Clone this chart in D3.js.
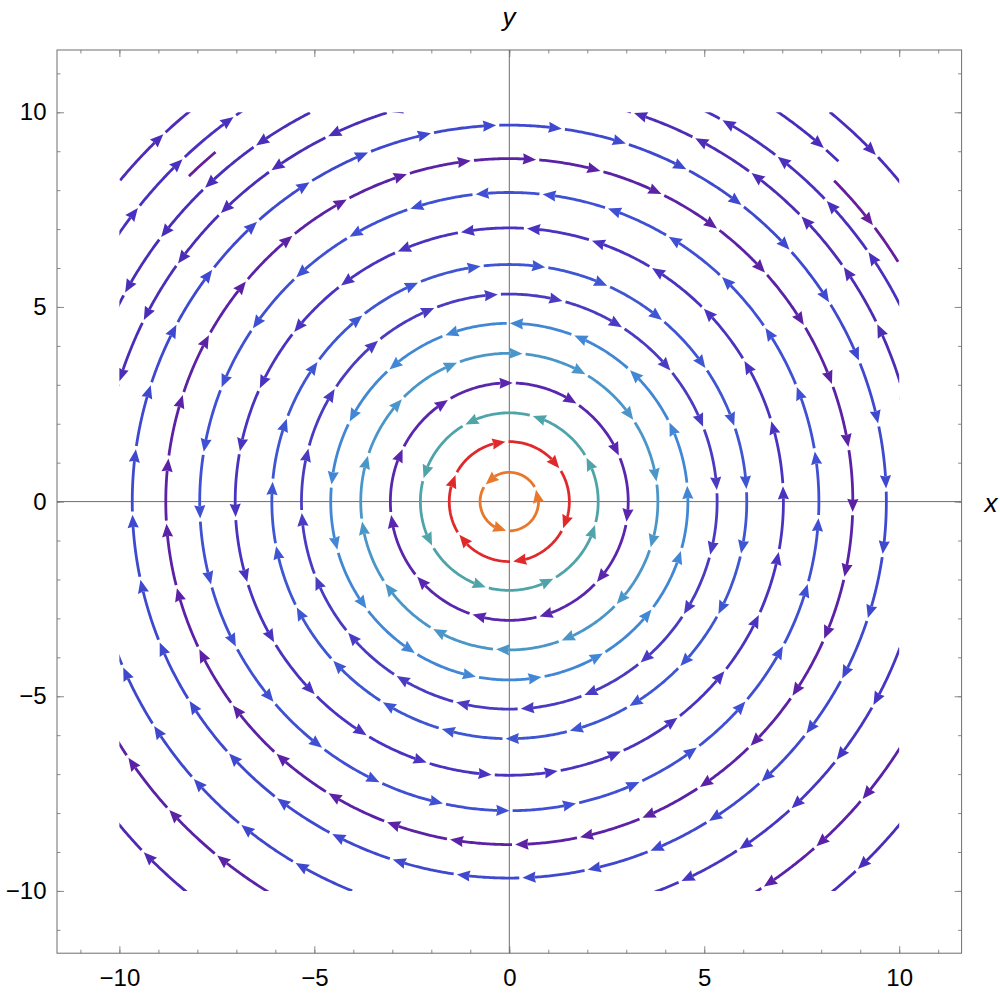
<!DOCTYPE html>
<html>
<head>
<meta charset="utf-8">
<style>
body { margin: 0; background: #fff; }
svg text { font-family: "Liberation Sans", Arial, sans-serif; fill: #000; }
.frame { fill: none; stroke: #6e6e6e; stroke-width: 1; }
.axis-line { stroke: #6e6e6e; stroke-width: 1; }
.tick line { stroke: #8a8a8a; }
</style>
</head>
<body>
<svg id="chart" width="1000" height="995"></svg>
<script src="https://d3js.org/d3.v7.min.js"></script>
<script>

// full circles round the origin (radius, spin: 1 = counter-clockwise, -1 = clockwise)
var radii  = [0.75, 1.54, 2.28, 3.05, 3.81, 4.58, 5.33, 6.09, 7.03, 7.94, 8.81, 9.67];
var spin   = [1, -1, 1, -1, -1, 1, -1, -1, 1, 1, -1, -1];
var phase  = [131, 160, 160.4, 157, 164.6, 172.4, 167, 176.8, 168, 169.5, 173.9, 173]; // angle of one arrow, degrees
var colors = ["#e8792c", "#e0292a", "#4ea4a9", "#5a26ae", "#4b96c8", "#4287d6",
              "#4a3cc2", "#3f56d2", "#4a33c0", "#3f50d4", "#5c22a6", "#3f49d0"];

// partial streamlines in the corners of the square
var cornerR      = [10.47, 11.22, 11.72, 12.15, 12.95,  10.48, 11.22, 11.72, 12.15, 12.95,  10.7, 11.85, 13.0,  10.78, 11.78, 13.0];
var cornerFrom   = [90, 90, 130, 90, 90,   0, 0, 31.7, 46, 0,   -90, -90, -90,   180, 180, 180];
var cornerTo     = [180, 180, 134.5, 180, 180,   90, 90, 44.7, 56, 90,   0, 0, 0,   270, 270, 270];
var cornerSpin   = [1, 1, -1, -1, -1,   1, 1, -1, -1, -1,   -1, -1, -1,   -1, -1, -1];
var cornerPhase  = [115.4, 124.5, 130.8, 126.4, 134,   71.3, 59.97, 38.1, 49.2, 44.2,   -28.3, -39.3, -45.8,   204.2, 214.8, 224.6];
var cornerColors = ["#4b2db8", "#4a2eba", "#681e9c", "#4a30c0", "#4d2cbc",
                    "#4e2cb4", "#4a30bc", "#681e9c", "#4a2cbc", "#4d2cbc",
                    "#4636c4", "#5a22a8", "#4c2cbc",
                    "#3f48cc", "#5c22a6", "#5028b4"];

var majorTicks = [-10, -5, 0, 5, 10];
var minorTicks = d3.range(-11, 12);

var svg = d3.select("#chart");

var x = d3.scaleLinear().domain([-11.6, 11.6]).range([57, 961.6]),
    y = d3.scaleLinear().domain([-11.6, 11.6]).range([953.2, 50]);

var spacing = 1.7,    // arc length between arrows
    arrowLen = 0.34,
    gap = 0.08,
    headHalf = 5.6,   // px
    notch = 1.2;      // px

// frame ticks
function fmt(d) { return d < 0 ? "\u2212" + (-d) : "" + d; }

function addAxis(axisFn, transform, labels) {
  var g1 = svg.append("g").attr("transform", transform)
    .call(axisFn.tickValues(minorTicks).tickSize(-3.5).tickFormat(""));
  g1.select(".domain").remove();
  var g2 = svg.append("g").attr("transform", transform)
    .call(axisFn.tickValues(majorTicks).tickSize(-7).tickFormat(labels ? fmt : ""));
  g2.select(".domain").remove();
  return g2;
}

addAxis(d3.axisBottom(x).tickPadding(16), "translate(0," + y(-11.6) + ")", true);
addAxis(d3.axisLeft(y).tickPadding(10.5), "translate(" + x(-11.6) + ",0)", true);
addAxis(d3.axisTop(x), "translate(0," + y(11.6) + ")", false);
addAxis(d3.axisRight(y), "translate(" + x(11.6) + ",0)", false);

svg.selectAll(".tick text").attr("font-size", 24).attr("font-family", null);

// axes through the origin
svg.append("line").attr("class", "axis-line")
  .attr("x1", x(-11.6)).attr("x2", x(11.6)).attr("y1", y(0)).attr("y2", y(0));
svg.append("line").attr("class", "axis-line")
  .attr("x1", x(0)).attr("x2", x(0)).attr("y1", y(11.6)).attr("y2", y(-11.6));

svg.append("rect").attr("class", "frame")
  .attr("x", x(-11.6)).attr("y", y(11.6))
  .attr("width", x(11.6) - x(-11.6)).attr("height", y(-11.6) - y(11.6));

svg.append("text").text("x").attr("x", 991).attr("y", 512)
  .attr("text-anchor", "middle").attr("font-size", 26).attr("font-style", "italic");
svg.append("text").text("y").attr("x", 509).attr("y", 26)
  .attr("text-anchor", "middle").attr("font-size", 26).attr("font-style", "italic");

// streamlines
svg.append("clipPath").attr("id", "square").append("rect")
  .attr("x", x(-10)).attr("y", y(10))
  .attr("width", x(10) - x(-10)).attr("height", y(-10) - y(10));

var plot = svg.append("g").attr("clip-path", "url(#square)");

var line = d3.line().x(function(p) { return x(p[0]); }).y(function(p) { return y(p[1]); });

function pointAt(r, start, dir, s) {
  var a = start + dir * s / r;
  return [r * Math.cos(a), r * Math.sin(a)];
}

function arcPoints(r, start, dir, s0, s1) {
  var n = Math.max(2, Math.ceil((s1 - s0) / 0.05));
  return d3.range(n + 1).map(function(i) { return pointAt(r, start, dir, s0 + (s1 - s0) * i / n); });
}

function drawHead(g, r, start, dir, sTip, color) {
  var t = pointAt(r, start, dir, sTip), b = pointAt(r, start, dir, sTip - arrowLen);
  var tx = x(t[0]), ty = y(t[1]), bx = x(b[0]), by = y(b[1]);
  var dx = tx - bx, dy = ty - by, len = Math.sqrt(dx * dx + dy * dy);
  dx /= len; dy /= len;
  var px = -dy, py = dx;
  var pts = [[tx, ty], [bx + px * headHalf, by + py * headHalf],
             [bx + dx * notch, by + dy * notch], [bx - px * headHalf, by - py * headHalf]];
  g.append("path").attr("d", "M" + pts.join("L") + "Z").attr("fill", color);
}

function drawSegment(g, r, start, dir, s0, s1, color) {
  if (s1 - s0 < 0.02) return;
  g.append("path").attr("d", line(arcPoints(r, start, dir, s0, s1)))
    .attr("fill", "none").attr("stroke", color).attr("stroke-width", 2.8);
}

function drawCircle(r, dir, ph, color) {
  var g = plot.append("g");
  var L = 2 * Math.PI * r,
      n = Math.max(3, Math.round(L / spacing)),
      step = L / n;
  var tipAngle = ph * Math.PI / 180 + dir * (arrowLen / 2) / r;
  var start = tipAngle + dir * gap / r;
  for (var k = 1; k <= n; k++) {
    var sTip = k * step - gap;
    drawSegment(g, r, start, dir, (k - 1) * step, sTip - arrowLen + 0.03, color);
    drawHead(g, r, start, dir, sTip, color);
  }
}

function drawArc(r, a0, a1, dir, ph, color) {
  var g = plot.append("g");
  var start = (dir > 0 ? a0 : a1) * Math.PI / 180,
      L = (a1 - a0) * Math.PI / 180 * r,
      step = spacing;
  var sc = dir * (ph * Math.PI / 180 - start) * r + arrowLen / 2; // tip of the read arrow
  var first = sc - Math.floor(sc / step) * step;
  var cur = 0;
  for (var s = first; s <= L; s += step) {
    if (s < arrowLen) continue;
    drawSegment(g, r, start, dir, cur, s - arrowLen + 0.03, color);
    drawHead(g, r, start, dir, s, color);
    cur = s + gap;
  }
  drawSegment(g, r, start, dir, cur, L, color);
}

radii.forEach(function(r, i) { drawCircle(r, spin[i], phase[i], colors[i]); });
cornerR.forEach(function(r, i) {
  drawArc(r, cornerFrom[i], cornerTo[i], cornerSpin[i], cornerPhase[i], cornerColors[i]);
});

</script>
</body>
</html>
